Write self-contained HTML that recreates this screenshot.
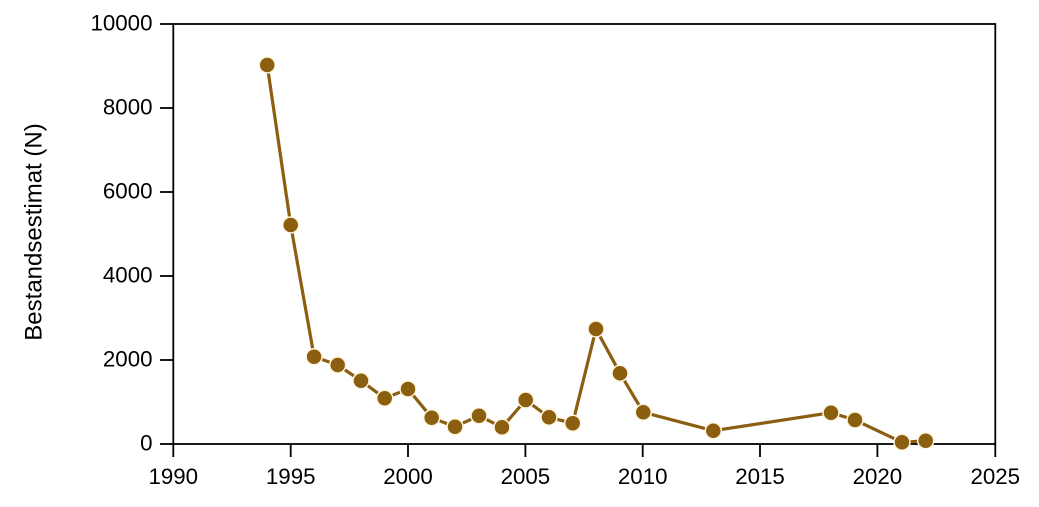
<!DOCTYPE html>
<html>
<head>
<meta charset="utf-8">
<style>
html,body{margin:0;padding:0;background:#fff;}
svg{display:block;}
text{font-family:"Liberation Sans",Arial,sans-serif;fill:#000;}
</style>
</head>
<body>
<svg width="1039" height="507" viewBox="0 0 1039 507" xmlns="http://www.w3.org/2000/svg">
<rect width="1039" height="507" fill="#fff"/>
<g stroke="#000" stroke-width="1.8" fill="none">
<rect x="173.3" y="24" width="822" height="420"/>
<line x1="160" y1="24" x2="173.3" y2="24"/>
<line x1="160" y1="108" x2="173.3" y2="108"/>
<line x1="160" y1="192" x2="173.3" y2="192"/>
<line x1="160" y1="276" x2="173.3" y2="276"/>
<line x1="160" y1="360" x2="173.3" y2="360"/>
<line x1="160" y1="444" x2="173.3" y2="444"/>
<line x1="173.3" y1="444" x2="173.3" y2="457"/>
<line x1="290.7" y1="444" x2="290.7" y2="457"/>
<line x1="408" y1="444" x2="408" y2="457"/>
<line x1="525.4" y1="444" x2="525.4" y2="457"/>
<line x1="642.7" y1="444" x2="642.7" y2="457"/>
<line x1="760" y1="444" x2="760" y2="457"/>
<line x1="877.4" y1="444" x2="877.4" y2="457"/>
<line x1="995.3" y1="444" x2="995.3" y2="457"/>
</g>
<g font-size="22.3" text-anchor="end">
<text x="152.5" y="30.5">10000</text>
<text x="152.5" y="114.5">8000</text>
<text x="152.5" y="198.5">6000</text>
<text x="152.5" y="282.5">4000</text>
<text x="152.5" y="366.5">2000</text>
<text x="152.5" y="450.5">0</text>
</g>
<g font-size="22.3" text-anchor="middle">
<text x="173.3" y="484">1990</text>
<text x="290.7" y="484">1995</text>
<text x="408" y="484">2000</text>
<text x="525.4" y="484">2005</text>
<text x="642.7" y="484">2010</text>
<text x="760" y="484">2015</text>
<text x="877.4" y="484">2020</text>
<text x="995.3" y="484">2025</text>
</g>
<text font-size="24" text-anchor="middle" transform="translate(41.5,232) rotate(-90)">Bestandsestimat (N)</text>
<polyline fill="none" stroke="#8B5E10" stroke-width="3.2" stroke-linejoin="round"
points="267.2,65 290.7,225 314.1,356.7 337.7,365 361,380.7 384.7,398.3 408,389 431.7,417.7 455,426.7 479,415.7 502,427.3 525.7,400 549,417.3 572.7,423.3 596,329 620,373.3 643.3,412.3 713.3,430.7 831,412.7 855,420 902,442.3 925.7,440.7"/>
<g fill="#8B5E10" stroke="#fff6e0" stroke-width="1.5">
<circle cx="267.2" cy="65" r="8"/>
<circle cx="290.7" cy="225" r="8"/>
<circle cx="314.1" cy="356.7" r="8"/>
<circle cx="337.7" cy="365" r="8"/>
<circle cx="361" cy="380.7" r="8"/>
<circle cx="384.7" cy="398.3" r="8"/>
<circle cx="408" cy="389" r="8"/>
<circle cx="431.7" cy="417.7" r="8"/>
<circle cx="455" cy="426.7" r="8"/>
<circle cx="479" cy="415.7" r="8"/>
<circle cx="502" cy="427.3" r="8"/>
<circle cx="525.7" cy="400" r="8"/>
<circle cx="549" cy="417.3" r="8"/>
<circle cx="572.7" cy="423.3" r="8"/>
<circle cx="596" cy="329" r="8"/>
<circle cx="620" cy="373.3" r="8"/>
<circle cx="643.3" cy="412.3" r="8"/>
<circle cx="713.3" cy="430.7" r="8"/>
<circle cx="831" cy="412.7" r="8"/>
<circle cx="855" cy="420" r="8"/>
<circle cx="902" cy="442.3" r="8"/>
<circle cx="925.7" cy="440.7" r="8"/>
</g>
</svg>
</body>
</html>
